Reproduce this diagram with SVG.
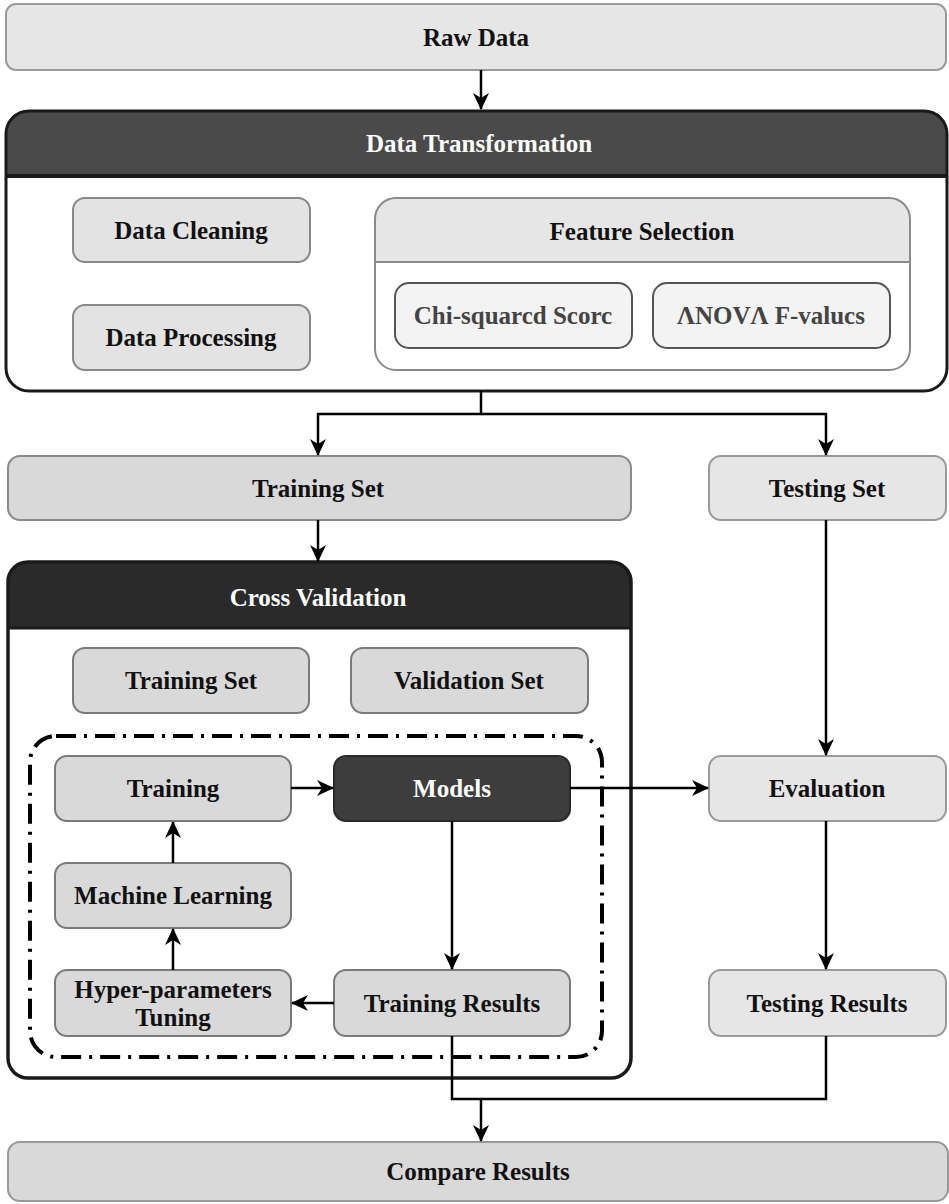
<svg xmlns="http://www.w3.org/2000/svg" width="949" height="1204" viewBox="0 0 949 1204">
<style>
text{font-family:"Liberation Serif","Times New Roman",serif;font-size:25px;font-weight:bold;text-anchor:middle;fill:#111}
.w{fill:#fff}
.g{fill:#444}
.lt{fill:#e6e6e6;stroke:#9a9a9a;stroke-width:2}
.md{fill:#d9d9d9;stroke:#7a7a7a;stroke-width:2}
.pl{fill:#f3f3f3;stroke:#555;stroke-width:2}
.c{fill:none;stroke:#000;stroke-width:2.5}
</style>
<defs>
<marker id="ah" markerWidth="18" markerHeight="16" refX="16" refY="8" orient="auto" markerUnits="userSpaceOnUse">
<path d="M0,0 L17,8 L0,16 L5,8 Z" fill="#000"/>
</marker>
</defs>
<rect width="949" height="1204" fill="#fff"/>

<g id="raw-data"><rect class="lt" x="6" y="4" width="940" height="66" rx="10"/><text x="476" y="46">Raw Data</text></g>

<g id="data-transformation">
<path d="M6,176 V134 Q6,111 29,111 H924 Q947,111 947,134 V176 Z" fill="#4a4a4a"/>
<rect x="6" y="111" width="941" height="280" rx="23" fill="none" stroke="#1a1a1a" stroke-width="3"/>
<line x1="6" y1="176" x2="947" y2="176" stroke="#1a1a1a" stroke-width="4"/>
<text class="w" x="479" y="152">Data Transformation</text>
</g>
<g id="data-cleaning"><rect class="md" x="73" y="198" width="237" height="64" rx="12" style="fill:#e3e3e3;stroke:#888"/><text x="191" y="239">Data Cleaning</text></g>
<g id="data-processing"><rect class="md" x="73" y="305" width="237" height="65" rx="12" style="fill:#e3e3e3;stroke:#888"/><text x="191" y="346">Data Processing</text></g>
<g id="feature-selection">
<path d="M375,262 V219 Q375,198 396,198 H889 Q910,198 910,219 V262 Z" fill="#e6e6e6"/>
<rect x="375" y="198" width="535" height="172" rx="21" fill="none" stroke="#8a8a8a" stroke-width="2"/>
<line x1="375" y1="262" x2="910" y2="262" stroke="#8a8a8a" stroke-width="2"/>
<text x="642" y="240">Feature Selection</text>
</g>
<g id="chi-squared"><rect class="pl" x="395" y="283" width="237" height="65" rx="14"/><text class="g" x="513" y="324">Chi-squarcd Scorc</text></g>
<g id="anova"><rect class="pl" x="653" y="283" width="237" height="65" rx="14"/><text class="g" x="771" y="324">ΛNOVΛ F-valucs</text></g>

<g id="training-set"><rect class="md" x="8" y="456" width="623" height="64" rx="12" style="stroke:#8a8a8a"/><text x="318" y="497">Training Set</text></g>
<g id="testing-set"><rect class="lt" x="709" y="456" width="237" height="64" rx="12"/><text x="827" y="497">Testing Set</text></g>

<g id="cross-validation">
<path d="M8,628 V584 Q8,562 30,562 H609 Q631,562 631,584 V628 Z" fill="#2a2a2a"/>
<rect x="8" y="562" width="623" height="516" rx="20" fill="none" stroke="#1a1a1a" stroke-width="3.5"/>
<line x1="8" y1="628" x2="631" y2="628" stroke="#1a1a1a" stroke-width="3"/>
<text class="w" x="318" y="606">Cross Validation</text>
</g>
<g id="cv-training-set"><rect class="md" x="73" y="648" width="236" height="65" rx="12"/><text x="191" y="689">Training Set</text></g>
<g id="validation-set"><rect class="md" x="351" y="648" width="237" height="65" rx="12"/><text x="469" y="689">Validation Set</text></g>
<g id="loop"><rect x="30" y="736" width="572" height="321" rx="26" fill="none" stroke="#000" stroke-width="4" stroke-dasharray="20 8 3 8"/></g>
<g id="training"><rect class="md" x="55" y="756" width="236" height="65" rx="12"/><text x="173" y="797">Training</text></g>
<g id="models"><rect x="334" y="756" width="236" height="65" rx="12" fill="#3d3d3d" stroke="#2a2a2a" stroke-width="2"/><text class="w" x="452" y="797">Models</text></g>
<g id="machine-learning"><rect class="md" x="55" y="863" width="236" height="65" rx="12"/><text x="173" y="904">Machine Learning</text></g>
<g id="hyper-parameters"><rect class="md" x="55" y="970" width="236" height="66" rx="12"/><text x="173" y="998">Hyper-parameters</text><text x="173" y="1026">Tuning</text></g>
<g id="training-results"><rect class="md" x="334" y="970" width="236" height="66" rx="12"/><text x="452" y="1012">Training Results</text></g>
<g id="evaluation"><rect class="lt" x="709" y="756" width="237" height="65" rx="12"/><text x="827" y="797">Evaluation</text></g>
<g id="testing-results"><rect class="lt" x="709" y="970" width="237" height="66" rx="12"/><text x="827" y="1012">Testing Results</text></g>
<g id="compare-results"><rect class="md" x="8" y="1142" width="940" height="59" rx="12" style="stroke:#999"/><text x="478" y="1180">Compare Results</text></g>

<g id="connectors">
<path class="c" d="M481,70 V109" marker-end="url(#ah)"/>
<path class="c" d="M481,391 V414 H318 V455" marker-end="url(#ah)"/>
<path class="c" d="M481,414 H826 V455" marker-end="url(#ah)"/>
<path class="c" d="M318,520 V561" marker-end="url(#ah)"/>
<path class="c" d="M826,520 V755" marker-end="url(#ah)"/>
<path class="c" d="M291,788 H333" marker-end="url(#ah)"/>
<path class="c" d="M570,788 H708" marker-end="url(#ah)"/>
<path class="c" d="M452,821 V969" marker-end="url(#ah)"/>
<path class="c" d="M334,1003 H292" marker-end="url(#ah)"/>
<path class="c" d="M173,970 V929" marker-end="url(#ah)"/>
<path class="c" d="M173,863 V822" marker-end="url(#ah)"/>
<path class="c" d="M826,821 V969" marker-end="url(#ah)"/>
<path class="c" d="M452,1036 V1099 H826 V1036"/>
<path class="c" d="M481,1099 V1141" marker-end="url(#ah)"/>
</g>
</svg>
